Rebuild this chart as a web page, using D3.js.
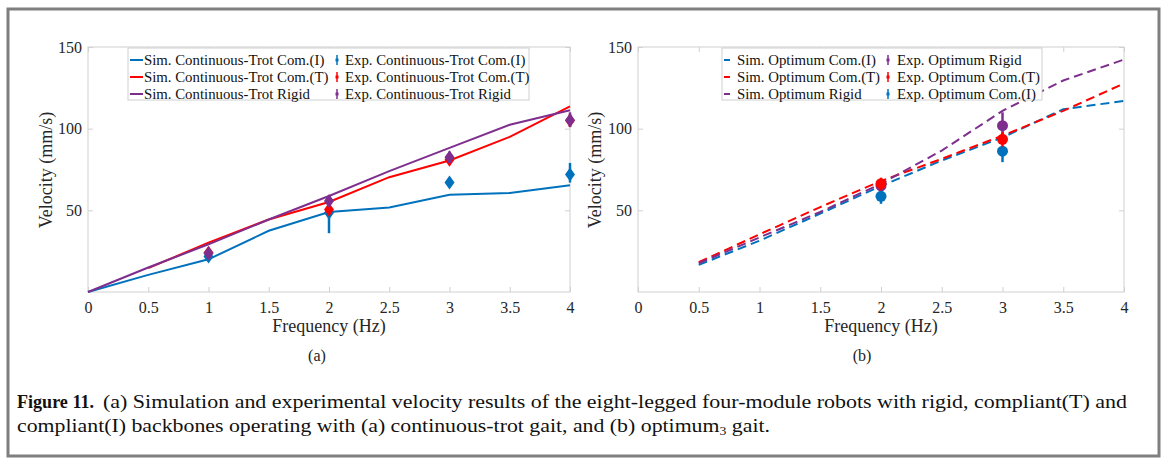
<!DOCTYPE html>
<html><head><meta charset="utf-8">
<script src="https://cdn.jsdelivr.net/npm/d3@7"></script>
<style>
html,body{margin:0;padding:0;background:#fff;}
svg{display:block;}
svg text{font-family:"Liberation Serif","Times New Roman",Times,serif;}
</style></head>
<body>
<svg id="chart" width="1165" height="459"></svg>
<script>
// ---------- data ----------
const xTicks = [0, 0.5, 1, 1.5, 2, 2.5, 3, 3.5, 4];
const yTicks = [50, 100, 150];

// panel (a): continuous-trot
const freqA = [0, 0.5, 1, 1.5, 2, 2.5, 3, 3.5, 4];
const simA_I = [0, 10.5, 20, 37.5, 49, 51.7, 59.6, 60.6, 65.3];
const simA_T = [null, 14.6, 30.2, 44.4, 55.1, 70.3, 80.5, 95, 113.7];
const simA_R = [0, 15, 29.2, 44.4, 58.8, 74, 88.2, 102.4, 111.3];
const expFreqA = [1, 2, 3, 4];
const expA_I = [21.7, 48.5, 67, 72];
const expA_I_lo = [19.5, 36, 64.5, 67];
const expA_I_hi = [24, 52, 70, 79];
const expA_T = [24, 50.5, 81, 105];
const expA_T_lo = [22, 48, 78, 101];
const expA_T_hi = [26, 53, 84, 109];
const expA_R = [23.7, 55.7, 82.5, 105.2];
const expA_R_lo = [20.5, 52.5, 79, 101];
const expA_R_hi = [27, 59, 86, 110];

// panel (b): optimum
const freqB = [0.5, 1, 1.5, 2, 2.5, 3, 3.5, 4];
const simB_I = [16.6, 31.4, 48, 64.9, 80.5, 94.6, 111.9, 117];
const simB_T = [18.2, 35.3, 52, 68, 81.5, 95.7, 110.9, 127.7];
const simB_R = [17.6, 33.4, 49, 66.3, 86.6, 110.9, 129.5, 142.3];
const expFreqB = [2, 3];
const expB_I = [58.6, 86.2];
const expB_I_lo = [54, 79.5];
const expB_I_hi = [63, 89];
const expB_T = [66.3, 93.5];
const expB_T_lo = [62, 89];
const expB_T_hi = [70, 98];
const expB_R = [65, 101.8];
const expB_R_lo = [62, 96];
const expB_R_hi = [68, 110];

const legendA = ["Sim. Continuous-Trot Com.(I)", "Sim. Continuous-Trot Com.(T)", "Sim. Continuous-Trot Rigid",
                 "Exp. Continuous-Trot Com.(I)", "Exp. Continuous-Trot Com.(T)", "Exp. Continuous-Trot Rigid"];
const legendB = ["Sim. Optimum Com.(I)", "Sim. Optimum Com.(T)", "Sim. Optimum Rigid",
                 "Exp. Optimum Rigid", "Exp. Optimum Com.(T)", "Exp. Optimum Com.(I)"];

const C_BLUE = "#0072BD", C_RED = "#FF0000", C_PURP = "#7E2F8E";
const FONT = "'Liberation Serif','Times New Roman',Times,serif";

const svg = d3.select("#chart");
svg.append("rect").attr("x", 8).attr("y", 9).attr("width", 1151).attr("height", 447)
  .attr("fill", "#fff").attr("stroke", "#7f7f7f").attr("stroke-width", 3);

function panel(opt) {
  const x = d3.scaleLinear().domain([0, 4]).range([opt.x0, opt.x1]);
  const y = d3.scaleLinear().domain([0, 150]).range([292, 47]);
  const g = svg.append("g");
  const axCol = "#d0d0d0", txtCol = "#262626";
  g.append("rect").attr("x", opt.x0).attr("y", 47).attr("width", opt.x1 - opt.x0).attr("height", 245)
    .attr("fill", "none").attr("stroke", axCol).attr("stroke-width", 1);
  const xb = g.append("g").attr("transform", "translate(0,292)")
    .call(d3.axisBottom(x).tickValues(xTicks).tickSize(-5).tickPadding(10).tickFormat(d3.format("")));
  const xt = g.append("g").attr("transform", "translate(0,47)")
    .call(d3.axisTop(x).tickValues(xTicks).tickSize(-5).tickFormat(""));
  const yl = g.append("g").attr("transform", `translate(${opt.x0},0)`)
    .call(d3.axisLeft(y).tickValues(yTicks).tickSize(-5).tickPadding(6));
  const yr = g.append("g").attr("transform", `translate(${opt.x1},0)`)
    .call(d3.axisRight(y).tickValues(yTicks).tickSize(-5).tickFormat(""));
  [xb, xt, yl, yr].forEach(a => {
    a.attr("font-family", FONT);
    a.select(".domain").remove();
    a.selectAll(".tick line").attr("stroke", axCol);
    a.selectAll(".tick text").attr("fill", txtCol).attr("font-size", 16);
  });
  g.append("text").attr("x", (opt.x0 + opt.x1) / 2).attr("y", 332).attr("text-anchor", "middle")
    .attr("fill", txtCol).attr("font-size", 18).text("Frequency (Hz)");
  g.append("text").attr("transform", `translate(${opt.ylx},170) rotate(-90)`).attr("text-anchor", "middle")
    .attr("fill", txtCol).attr("font-size", 18).text("Velocity (mm/s)");
  g.append("text").attr("x", opt.subx).attr("y", 361).attr("text-anchor", "middle")
    .attr("fill", "#222").attr("font-size", 16).text(opt.sub);
  return {x, y, g};
}

function simLine(p, xs, ys, color, dashed) {
  const data = xs.map((d, i) => [d, ys[i]]);
  const line = d3.line().defined(d => d[1] !== null).x(d => p.x(d[0])).y(d => p.y(d[1]));
  p.g.append("path").datum(data).attr("d", line).attr("fill", "none").attr("stroke", color)
    .attr("stroke-width", 2).attr("stroke-dasharray", dashed ? "9,5" : null);
}

function expPoints(p, xs, ys, lo, hi, color, shape) {
  const gg = p.g.append("g");
  xs.forEach((f, i) => {
    gg.append("line").attr("x1", p.x(f)).attr("x2", p.x(f)).attr("y1", p.y(lo[i])).attr("y2", p.y(hi[i]))
      .attr("stroke", color).attr("stroke-width", 2.5);
    if (shape === "diamond") {
      const cx = p.x(f), cy = p.y(ys[i]);
      gg.append("path").attr("d", `M${cx},${cy - 7}L${cx + 5},${cy}L${cx},${cy + 7}L${cx - 5},${cy}Z`)
        .attr("fill", color);
    } else {
      gg.append("circle").attr("cx", p.x(f)).attr("cy", p.y(ys[i])).attr("r", 5.5).attr("fill", color);
    }
  });
}

function legend(p, box, labels, colors) {
  const g = p.g.append("g");
  g.append("rect").attr("x", box.x).attr("y", box.y).attr("width", box.w).attr("height", box.h)
    .attr("fill", "#fff").attr("stroke", "#d0d0d0").attr("stroke-width", 1);
  labels.forEach((lab, i) => {
    const col = i < 3 ? 0 : 1, row = i % 3;
    const cy = box.y + 12 + row * 17;
    const c = colors[i];
    if (col === 0) {
      g.append("line").attr("x1", box.x + box.s0).attr("x2", box.x + box.s0 + box.sl)
        .attr("y1", cy).attr("y2", cy).attr("stroke", c).attr("stroke-width", 2);
      g.append("text").attr("x", box.x + box.t0).attr("y", cy + 5).attr("fill", "#111")
        .attr("font-size", 14.8).text(lab);
    } else {
      const mx = box.x + box.m1;
      g.append("line").attr("x1", mx).attr("x2", mx).attr("y1", cy - 5).attr("y2", cy + 5)
        .attr("stroke", c).attr("stroke-width", 1.5);
      g.append("rect").attr("x", mx - 1.5).attr("y", cy - 1.5).attr("width", 3).attr("height", 3).attr("fill", c);
      g.append("text").attr("x", box.x + box.t1).attr("y", cy + 5).attr("fill", "#111")
        .attr("font-size", 14.8).text(lab);
    }
  });
}

// ---------- panel (a) ----------
const pA = panel({x0: 88, x1: 570, ylx: 52, subx: 317, sub: "(a)"});
simLine(pA, freqA, simA_I, C_BLUE, false);
simLine(pA, freqA, simA_T, C_RED, false);
simLine(pA, freqA, simA_R, C_PURP, false);
expPoints(pA, expFreqA, expA_I, expA_I_lo, expA_I_hi, C_BLUE, "diamond");
expPoints(pA, expFreqA, expA_T, expA_T_lo, expA_T_hi, C_RED, "diamond");
expPoints(pA, expFreqA, expA_R, expA_R_lo, expA_R_hi, C_PURP, "diamond");
legend(pA, {x: 128, y: 48, w: 401, h: 52, s0: 2, sl: 13, t0: 16, m1: 209, t1: 217},
  legendA, [C_BLUE, C_RED, C_PURP, C_BLUE, C_RED, C_PURP]);

// ---------- panel (b) ----------
const pB = panel({x0: 638, x1: 1124, ylx: 601, subx: 862, sub: "(b)"});
simLine(pB, freqB, simB_I, C_BLUE, true);
simLine(pB, freqB, simB_T, C_RED, true);
simLine(pB, freqB, simB_R, C_PURP, true);
expPoints(pB, expFreqB, expB_R, expB_R_lo, expB_R_hi, C_PURP, "circle");
expPoints(pB, expFreqB, expB_I, expB_I_lo, expB_I_hi, C_BLUE, "circle");
expPoints(pB, expFreqB, expB_T, expB_T_lo, expB_T_hi, C_RED, "circle");
legend(pB, {x: 722, y: 48, w: 320, h: 52, s0: 2, sl: 6, t0: 15, m1: 166, t1: 175},
  legendB, [C_BLUE, C_RED, C_PURP, C_PURP, C_RED, C_BLUE]);

// ---------- caption ----------
svg.append("text").attr("x", 17).attr("y", 408).attr("fill", "#111")
  .attr("font-size", 19).attr("font-weight", "bold").attr("textLength", 77).attr("lengthAdjust", "spacingAndGlyphs")
  .text("Figure 11.");
svg.append("text").attr("x", 103).attr("y", 408).attr("fill", "#111")
  .attr("font-size", 19).attr("textLength", 1024).attr("lengthAdjust", "spacingAndGlyphs")
  .text("(a) Simulation and experimental velocity results of the eight-legged four-module robots with rigid, compliant(T) and");
const cap2 = svg.append("text").attr("x", 17).attr("y", 432).attr("fill", "#111")
  .attr("font-size", 19).attr("textLength", 753).attr("lengthAdjust", "spacingAndGlyphs");
cap2.append("tspan").text("compliant(I) backbones operating with (a) continuous-trot gait, and (b) optimum");
cap2.append("tspan").attr("dy", 3).attr("font-size", 12).text("3");
cap2.append("tspan").attr("dy", -3).text(" gait.");

svg.selectAll("text").attr("font-family", FONT);
</script>
</body></html>
